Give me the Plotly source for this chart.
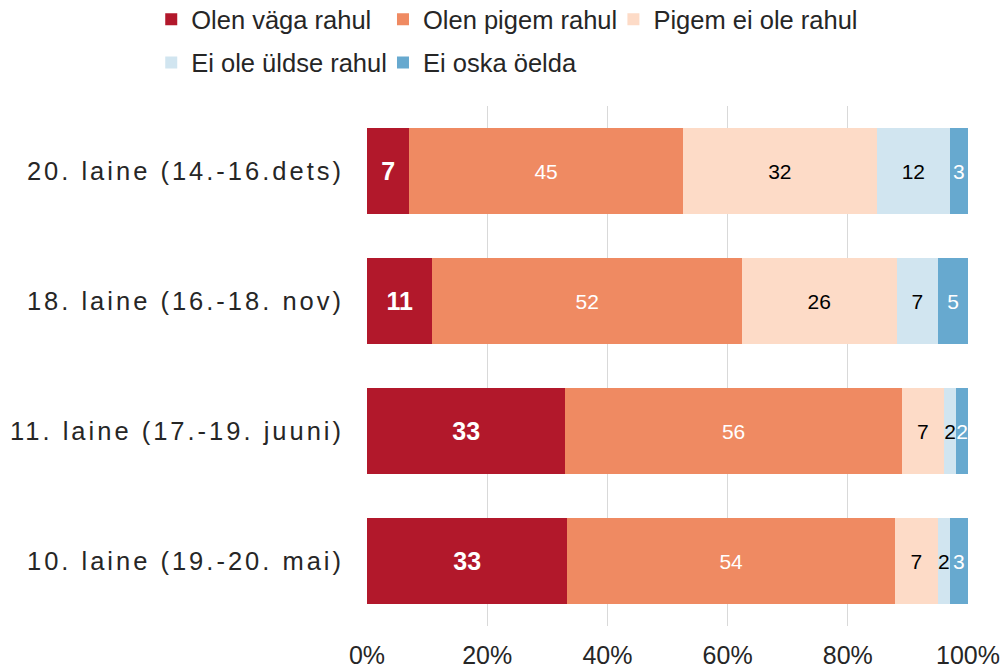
import plotly.graph_objects as go

categories = ["10. laine (19.-20. mai)", "11. laine (17.-19. juuni)",
              "18. laine (16.-18. nov)", "20. laine (14.-16.dets)"]
series_names = ["Olen väga rahul", "Olen pigem rahul", "Pigem ei ole rahul",
                "Ei ole üldse rahul", "Ei oska öelda"]
olen_vaga = [33, 33, 11, 7]
olen_pigem = [54, 56, 52, 45]
pigem_ei = [7, 7, 26, 32]
ei_uldse = [2, 2, 7, 12]
ei_oska = [3, 2, 5, 3]
tick_vals = [0, 20, 40, 60, 80, 100]
tick_text = ["0%", "20%", "40%", "60%", "80%", "100%"]

colors = ["#B2182B", "#EF8A62", "#FDDBC7", "#D1E5F0", "#67A9CF"]
text_colors = ["white", "white", "black", "black", "white"]
text_sizes = [25, 21, 21, 21, 21]
legends = ["legend", "legend2", "legend3", "legend4", "legend5"]
FONT = "Liberation Sans, Arial, sans-serif"
TXT = "#262626"

fig = go.Figure()
for i, (name, vals) in enumerate(zip(series_names,
                                     [olen_vaga, olen_pigem, pigem_ei, ei_uldse, ei_oska])):
    fig.add_trace(go.Bar(
        y=categories, x=vals, name=name, orientation="h",
        marker=dict(color=colors[i], line=dict(width=0)),
        text=[("<b>%d</b>" % v) if i == 0 else str(v) for v in vals],
        textposition="inside", insidetextanchor="middle",
        constraintext="none", cliponaxis=False,
        textfont=dict(color=text_colors[i], size=text_sizes[i], family=FONT),
        hoverinfo="skip", legend=legends[i],
    ))

leg_common = dict(orientation="h", xanchor="left", yanchor="middle",
                  font=dict(size=25.5, family=FONT, color=TXT),
                  itemclick=False, itemdoubleclick=False,
                  bgcolor="rgba(0,0,0,0)", borderwidth=0)

fig.update_layout(
    barmode="stack", barnorm="percent", bargap=0.34,
    width=1003, height=669,
    margin=dict(l=367, r=35, t=106, b=43, autoexpand=False),
    paper_bgcolor="white", plot_bgcolor="white",
    font=dict(family=FONT, color=TXT),
    showlegend=True,
    legend=dict(x=-0.359, y=1.166, **leg_common),
    legend2=dict(x=0.0266, y=1.166, **leg_common),
    legend3=dict(x=0.410, y=1.166, **leg_common),
    legend4=dict(x=-0.359, y=1.083, **leg_common),
    legend5=dict(x=0.0266, y=1.083, **leg_common),
    xaxis=dict(range=[0, 100], tickvals=tick_vals, ticktext=tick_text,
               showgrid=True, gridcolor="#D9D9D9", gridwidth=1, zeroline=False,
               showline=False, ticks="", ticklabelstandoff=12,
               tickfont=dict(size=25, family=FONT, color=TXT)),
    yaxis=dict(showgrid=False, zeroline=False, showline=False, ticks="",
               ticklabelstandoff=22,
               tickfont=dict(size=25.5, family=FONT, color=TXT)),
)

post = """
document.body.style.margin='0';
document.body.style.padding='0';
document.querySelectorAll('.ytick text').forEach(function(t){t.style.letterSpacing='3px';});
"""
fig.write_html("out.html", post_script=post, config={"displayModeBar": False})
